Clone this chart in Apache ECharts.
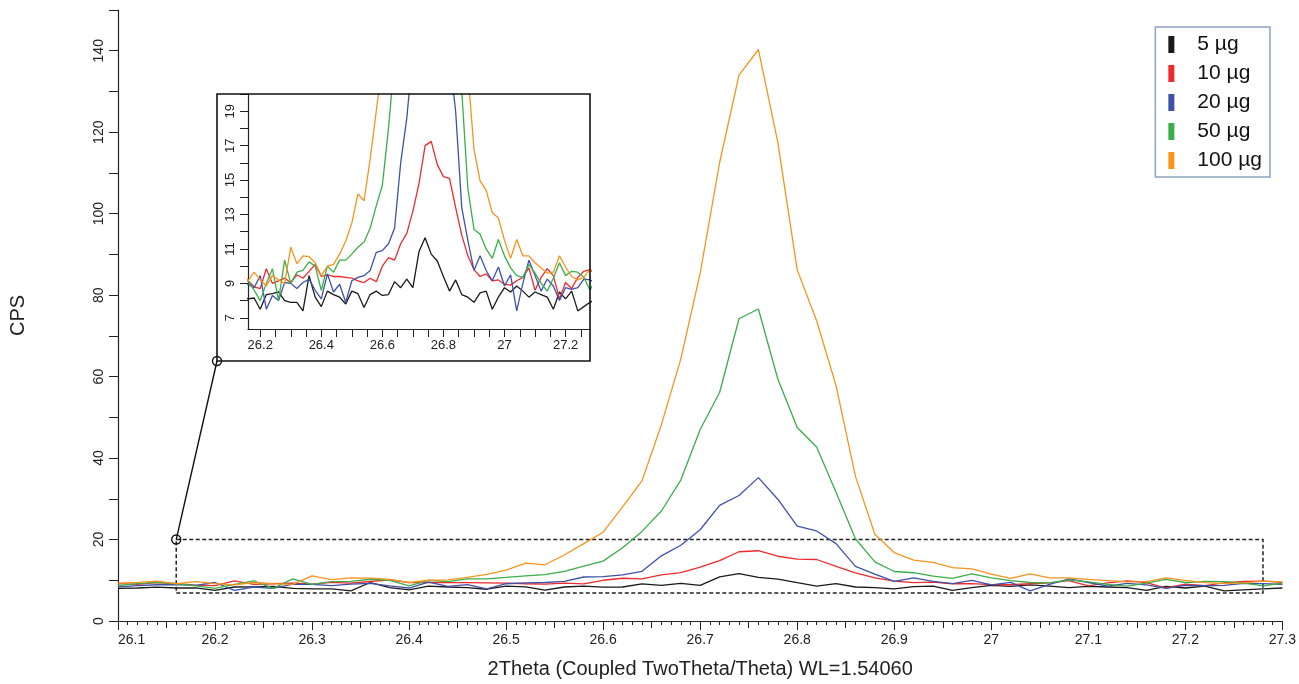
<!DOCTYPE html>
<html lang="en">
<head>
<meta charset="UTF-8">
<title>XRD 26-27.3</title>
<script src="https://cdn.jsdelivr.net/npm/echarts@6/dist/echarts.min.js"></script>
<style>
    html, body { margin: 0; padding: 0; background: #fff; }
    #main { width: 1299px; height: 684px; }
</style>
</head>
<body>
<div id="main"></div>
<script>
// 2theta positions (deg)
var theta = [26.10, 26.12, 26.14, 26.16, 26.18, 26.20, 26.22, 26.24, 26.26, 26.28,
             26.30, 26.32, 26.34, 26.36, 26.38, 26.40, 26.42, 26.44, 26.46, 26.48,
             26.50, 26.52, 26.54, 26.56, 26.58, 26.60, 26.62, 26.64, 26.66, 26.68,
             26.70, 26.72, 26.74, 26.76, 26.78, 26.80, 26.82, 26.84, 26.86, 26.88,
             26.90, 26.92, 26.94, 26.96, 26.98, 27.00, 27.02, 27.04, 27.06, 27.08,
             27.10, 27.12, 27.14, 27.16, 27.18, 27.20, 27.22, 27.24, 27.26, 27.28, 27.30];

// CPS per sample
var cps5 = [8.0, 8.1, 8.3, 8.1, 8.15, 7.5, 8.35, 8.4, 8.5, 8.0,
            7.9, 7.9, 7.4, 9.45, 8.2, 7.65, 8.55, 8.35, 8.2, 7.8,
            8.55, 8.4, 7.6, 8.35, 8.55, 8.3, 8.35, 9.1, 8.75, 9.25,
            8.75, 10.85, 11.65, 10.7, 10.3, 9.4, 8.55, 9.2, 8.35, 8.2,
            7.9, 8.45, 8.55, 7.5, 8.2, 8.75, 8.5, 8.85, 8.55, 8.2,
            8.5, 8.35, 8.2, 7.5, 8.5, 8.1, 8.55, 7.4, 7.65, 7.9, 8.1];
var cps10 = [9.2, 9.0, 9.4, 9.15, 8.8, 8.7, 9.85, 9.0, 9.15, 9.3,
             9.05, 9.5, 9.3, 9.7, 10.1, 9.4, 9.5, 9.4, 9.4, 9.35,
             9.3, 9.15, 9.05, 9.3, 9.1, 10.0, 10.5, 10.35, 11.3, 11.9,
             13.2, 14.8, 17.0, 17.25, 15.9, 15.2, 15.1, 13.4, 11.8, 10.6,
             9.8, 9.4, 9.55, 9.15, 9.2, 8.95, 8.9, 9.15, 9.35, 9.9,
             8.6, 9.35, 9.85, 9.45, 8.1, 9.05, 8.7, 9.35, 9.7, 9.8, 9.5];
var cps20 = [8.4, 8.7, 8.9, 8.95, 8.75, 9.45, 7.5, 8.3, 8.0, 9.05,
             9.0, 8.7, 9.05, 9.25, 8.6, 8.1, 9.55, 8.5, 8.95, 7.9,
             9.15, 9.35, 9.45, 9.75, 10.8, 10.9, 11.3, 12.2, 16.0, 18.6,
             22.4, 28.4, 30.8, 35.2, 29.9, 23.3, 22.1, 19.0, 13.4, 11.5,
             9.75, 10.6, 9.75, 9.15, 9.95, 8.85, 9.5, 7.4, 9.0, 10.35,
             9.45, 8.55, 9.25, 8.85, 8.0, 8.75, 8.65, 8.75, 9.25, 9.2, 9.0];
var cps50 = [8.7, 9.2, 9.5, 9.15, 8.6, 8.0, 9.0, 9.85, 8.0, 10.35,
             9.0, 9.65, 9.75, 10.25, 10.0, 8.6, 10.0, 9.65, 10.35, 10.35,
             10.7, 11.1, 11.4, 12.2, 13.5, 14.7, 18.0, 22.0, 27.0, 34.6,
             47.0, 56.1, 74.2, 76.6, 59.4, 47.5, 42.7, 31.6, 20.2, 14.5,
             12.15, 11.85, 11.0, 10.45, 11.55, 10.6, 9.9, 9.45, 9.35, 10.1,
             9.6, 9.0, 8.55, 9.3, 10.2, 9.45, 9.7, 9.65, 9.35, 8.6, 9.3];
var cps100 = [9.3, 9.5, 9.8, 9.15, 9.65, 9.2, 8.85, 9.45, 9.2, 9.0,
              11.1, 10.15, 10.6, 10.55, 10.2, 9.45, 10.0, 10.1, 10.7, 11.45,
              12.5, 14.2, 13.8, 16.2, 19.0, 21.8, 28.0, 34.4, 48.2, 64.3,
              85.4, 112.5, 134.0, 140.3, 117.5, 86.2, 73.7, 57.8, 35.5, 21.3,
              16.8, 14.95, 14.4, 13.1, 12.8, 11.5, 10.45, 11.55, 10.6, 10.6,
              10.2, 9.9, 9.6, 9.65, 10.6, 9.95, 9.4, 9.2, 9.35, 9.8, 9.6];

var seriesNames = ['5 µg', '10 µg', '20 µg', '50 µg', '100 µg'];
var seriesValues = [cps5, cps10, cps20, cps50, cps100];
var seriesColors = ['#1a1a1a', '#ee2a2d', '#3f51a8', '#3aae49', '#f7941e'];

// axis ticks and labels
var yLabels = [0, 20, 40, 60, 80, 100, 120, 140];
var yTicks = [0, 10, 20, 30, 40, 50, 60, 70, 80, 90, 100, 110, 120, 130, 140, 150];
var insetXLabels = [26.2, 26.4, 26.6, 26.8, 27, 27.2];
var insetXTicks = [26.2, 26.25, 26.3, 26.35, 26.4, 26.45, 26.5, 26.55, 26.6, 26.65, 26.7,
                   26.75, 26.8, 26.85, 26.9, 26.95, 27, 27.05, 27.1, 27.15, 27.2, 27.25];
var insetYLabels = [7, 9, 11, 13, 15, 17, 19];
var insetYTicks = [7, 8, 9, 10, 11, 12, 13, 14, 15, 16, 17, 18, 19, 20];
// zoomed window (shown dashed on the main plot)
var zoomX = [26.16, 27.28];
var zoomY = [6.85, 20];

var font = "'Liberation Sans', Arial, sans-serif";
var chart = echarts.init(document.getElementById('main'));

function pairs(vals) {
    return theta.map(function (t, i) { return [t, vals[i]]; });
}

var series = [];
seriesNames.forEach(function (n, i) {
    var s = {
        name: n, type: 'line', xAxisIndex: 0, yAxisIndex: 0,
        data: pairs(seriesValues[i]), showSymbol: false, symbol: 'none',
        lineStyle: { width: 1.3, color: seriesColors[i] }, itemStyle: { color: seriesColors[i] }
    };
    if (i === 0) {
        s.markArea = {
            silent: true,
            itemStyle: { color: 'rgba(0,0,0,0)', borderColor: '#222', borderWidth: 1.5, borderType: [4, 2.5] },
            data: [[{ coord: [zoomX[0], zoomY[1]] }, { coord: [zoomX[1], zoomY[0]] }]]
        };
    }
    series.push(s);
});
// same data in the inset
seriesNames.forEach(function (n, i) {
    series.push({
        name: n, type: 'line', xAxisIndex: 2, yAxisIndex: 1,
        data: pairs(seriesValues[i]), showSymbol: false, symbol: 'none', clip: true,
        lineStyle: { width: 1.3, color: seriesColors[i] }
    });
});

var lbl = { color: '#222', fontFamily: font };

var option = {
    animation: false,
    backgroundColor: '#fff',
    legend: {
        data: seriesNames,
        orient: 'vertical', right: 29, top: 27,
        icon: 'rect', itemWidth: 6, itemHeight: 17, itemGap: 8,
        padding: [7, 8, 6, 13],
        borderColor: '#8ea3c0', borderWidth: 1.5,
        textStyle: { fontSize: 21, color: '#111', fontFamily: font, lineHeight: 17, padding: [0, 0, 0, 18] }
    },
    grid: [
        { left: 114, top: 10, width: 1177, height: 612 },
        { left: 248, top: 94, width: 342, height: 235 }
    ],
    xAxis: [
        {
            gridIndex: 0, type: 'value', position: 'bottom', min: 26.1, max: 27.3, interval: 0.1,
            name: '2Theta (Coupled TwoTheta/Theta) WL=1.54060', nameLocation: 'middle', nameGap: 38,
            nameTextStyle: { fontSize: 20, color: '#222', fontFamily: font },
            axisLine: { lineStyle: { color: '#222', width: 1.2 } },
            axisTick: { length: 9, lineStyle: { color: '#222' } },
            minorTick: { show: true, splitNumber: 10, length: 4, lineStyle: { color: '#222' } },
            axisLabel: Object.assign({ fontSize: 14, margin: 12, alignMinLabel: 'left' }, lbl),
            splitLine: { show: false }
        },
        {
            // medium ticks every 0.05
            gridIndex: 0, type: 'value', position: 'bottom', min: 26.1, max: 27.3, interval: 0.05,
            axisLine: { show: false }, axisLabel: { show: false },
            axisTick: { length: 7, lineStyle: { color: '#222' } },
            splitLine: { show: false }
        },
        {
            gridIndex: 1, type: 'value', position: 'bottom', min: zoomX[0], max: zoomX[1],
            axisLine: { lineStyle: { color: '#222', width: 1.2 } },
            axisTick: { length: 8, customValues: insetXTicks, lineStyle: { color: '#222' } },
            axisLabel: Object.assign({ fontSize: 13, margin: 10, customValues: insetXLabels }, lbl),
            splitLine: { show: false }
        }
    ],
    yAxis: [
        {
            gridIndex: 0, type: 'value', min: 0, max: 150,
            name: 'CPS', nameLocation: 'middle', nameGap: 90, nameRotate: 90,
            nameTextStyle: { fontSize: 20, color: '#222', fontFamily: font },
            axisLine: { show: true, lineStyle: { color: '#222', width: 1.2 } },
            axisTick: { show: true, length: 9, customValues: yTicks, lineStyle: { color: '#222' } },
            axisLabel: Object.assign({ fontSize: 14, margin: 12, rotate: 90, customValues: yLabels }, lbl),
            splitLine: { show: false }
        },
        {
            gridIndex: 1, type: 'value', min: 6.35, max: 20,
            axisLine: { show: true, lineStyle: { color: '#222', width: 1.2 } },
            axisTick: { show: true, length: 8, customValues: insetYTicks, lineStyle: { color: '#222' } },
            axisLabel: Object.assign({ fontSize: 13, margin: 11, rotate: 90, customValues: insetYLabels }, lbl),
            splitLine: { show: false }
        }
    ],
    series: series
};

chart.setOption(option);

// inset frame and connector to the zoom window
var corner = chart.convertToPixel({ gridIndex: 0 }, [zoomX[0], zoomY[1]]);
var frame = { x: 217, y: 94, w: 373, h: 267 };
chart.setOption({
    graphic: [
        { type: 'rect', shape: { x: frame.x, y: frame.y, width: frame.w, height: frame.h },
          style: { fill: 'none', stroke: '#111', lineWidth: 1.6 }, z: 10 },
        { type: 'line', shape: { x1: corner[0], y1: corner[1], x2: frame.x, y2: frame.y + frame.h },
          style: { stroke: '#111', lineWidth: 1.4 }, z: 10 },
        { type: 'circle', shape: { cx: corner[0], cy: corner[1], r: 4.5 },
          style: { fill: 'none', stroke: '#111', lineWidth: 1.4 }, z: 10 },
        { type: 'circle', shape: { cx: frame.x, cy: frame.y + frame.h, r: 4.5 },
          style: { fill: 'none', stroke: '#111', lineWidth: 1.4 }, z: 10 }
    ]
});
window.onresize = chart.resize;
</script>
</body>
</html>
